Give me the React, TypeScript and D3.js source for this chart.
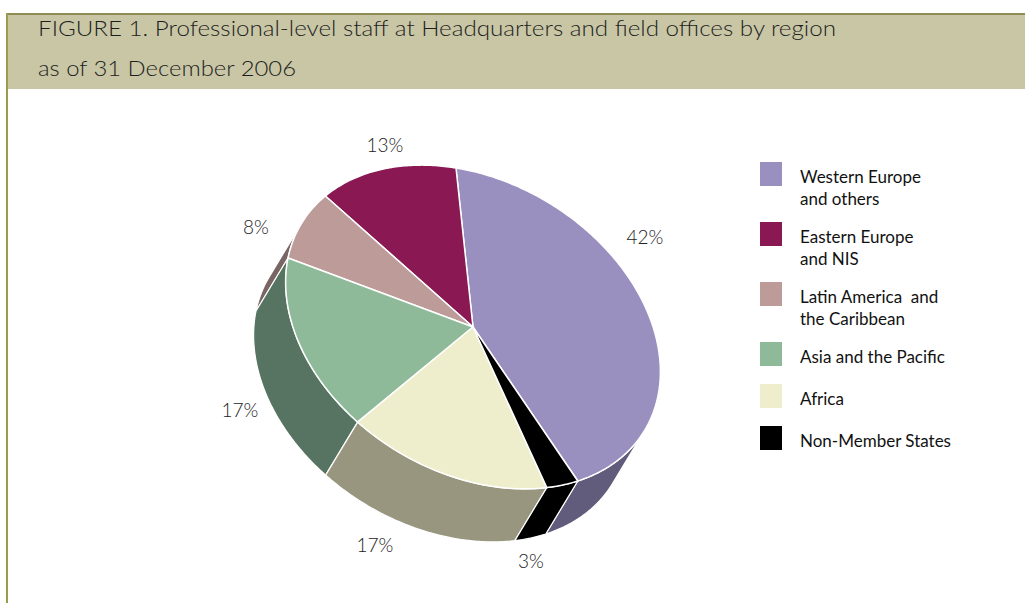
import React from "react";
import * as d3 from "d3";

// ---------- data ----------
const CATEGORIES: string[][] = [
  ["Western Europe", "and others"],
  ["Eastern Europe", "and NIS"],
  ["Latin America  and", "the Caribbean"],
  ["Asia and the Pacific"],
  ["Africa"],
  ["Non-Member States"],
];
const SHARES: number[] = [42, 13, 8, 17, 17, 3];
const TITLE_LINES: string[] = [
  "FIGURE 1. Professional-level staff at Headquarters and field offices by region",
  "as of 31 December 2006",
];

// ---------- styles / layout ----------
const TOP_COLORS = ["#9990c0", "#891853", "#bd9b99", "#8fba9a", "#eeedcc", "#000000"];
const SIDE_COLORS = ["#615b7c", "#5a1036", "#7a6565", "#567461", "#98967f", "#000000"];
const LABEL_OFFSETS: [number, number][] = [
  [172, -83],
  [-88, -175],
  [-217, -93],
  [-233, 90],
  [-98, 225],
  [58, 241],
];

const W = 1025;
const H = 603;
const C = { x: 473, y: 327 };
const AX_A = { x: -17, y: -159 };
const AX_B = { x: 186.6, y: 30.4 };
const DEPTH = { x: -32, y: 53 };
const TAU = Math.PI * 2;

function pt(phi: number, off = { x: 0, y: 0 }): [number, number] {
  const c = Math.cos(phi);
  const s = Math.sin(phi);
  return [C.x + AX_A.x * c + AX_B.x * s + off.x, C.y + AX_A.y * c + AX_B.y * s + off.y];
}

function arcPts(a0: number, a1: number, off = { x: 0, y: 0 }): [number, number][] {
  const n = Math.max(2, Math.ceil(Math.abs(a1 - a0) * 80));
  return d3.range(n + 1).map((i) => pt(a0 + ((a1 - a0) * i) / n, off));
}

const line = d3.line<[number, number]>();

export default function App() {
  const total = d3.sum(SHARES);
  const start = (TAU * SHARES[0]) / total;
  const arcs = d3
    .pie<number>()
    .sort(null)
    .value((d) => d)
    .startAngle(start)
    .endAngle(start - TAU)(SHARES);

  // visible (front) range of the side wall
  const p = -AX_A.y * DEPTH.x + AX_A.x * DEPTH.y;
  const q = AX_B.y * DEPTH.x - AX_B.x * DEPTH.y;
  const alpha = Math.atan2(p, q);
  const lo = alpha - Math.PI / 2;
  const hi = alpha + Math.PI / 2;

  const sides: { d: string; color: string }[] = [];
  const tops: { d: string; color: string }[] = [];

  arcs.forEach((a, i) => {
    const a0 = Math.min(a.startAngle, a.endAngle);
    const a1 = Math.max(a.startAngle, a.endAngle);
    const s0 = lo + ((((a0 - lo) % TAU) + TAU) % TAU);
    const s1 = s0 + (a1 - a0);
    const ranges: [number, number][] = [
      [Math.max(s0, lo), Math.min(s1, hi)],
      [Math.max(s0, lo + TAU), Math.min(s1, hi + TAU)],
    ];
    ranges.forEach(([b0, b1]) => {
      if (b1 > b0) {
        const pts = [...arcPts(b0, b1), ...arcPts(b1, b0, DEPTH)];
        sides.push({ d: line(pts) + "Z", color: SIDE_COLORS[i] });
      }
    });
    const topPts: [number, number][] = [[C.x, C.y], ...arcPts(a0, a1)];
    tops.push({ d: line(topPts) + "Z", color: TOP_COLORS[i] });
  });

  // legend layout
  let ly = 162;
  const legend = CATEGORIES.map((lines, i) => {
    const y = ly;
    ly += 42 + 18 * (lines.length - 1);
    return { lines, y, color: TOP_COLORS[i] };
  });

  return (
    <svg
      width={W}
      height={H}
      style={{ position: "absolute", left: 0, top: 0, display: "block", background: "#ffffff" }}
    >
      {/* frame */}
      <rect x={8} y={15} width={W - 8} height={74} fill="#c8c6a5" />
      <line x1={6} x2={W} y1={14} y2={14} stroke="#8e8d53" strokeWidth={2} />
      <line x1={7} x2={7} y1={13} y2={H} stroke="#9b9a4f" strokeWidth={2} />
      {TITLE_LINES.map((t, i) => (
        <text
          key={i}
          x={38}
          y={36 + i * 40}
          fontFamily="Lato, 'Open Sans', sans-serif"
          fontWeight={300}
          fontSize={21.5}
          fill="#1e1e1e"
          textLength={i === 0 ? 798 : 258}
          lengthAdjust="spacingAndGlyphs"
        >
          {t}
        </text>
      ))}

      {/* pie sides */}
      {sides.map((s, i) => (
        <path key={"s" + i} d={s.d} fill={s.color} stroke="#ffffff" strokeWidth={1.2} strokeLinejoin="round" />
      ))}
      {/* pie tops */}
      {tops.map((s, i) => (
        <path key={"t" + i} d={s.d} fill={s.color} stroke="#ffffff" strokeWidth={1.5} strokeLinejoin="round" />
      ))}

      {/* percent labels */}
      {SHARES.map((v, i) => (
        <text
          key={"l" + i}
          x={C.x + LABEL_OFFSETS[i][0]}
          y={C.y + LABEL_OFFSETS[i][1]}
          textAnchor="middle"
          fontFamily="Lato, 'Open Sans', sans-serif"
          fontWeight={300}
          fontSize={19}
          fill="#222222"
        >
          {`${v}%`}
        </text>
      ))}

      {/* legend */}
      {legend.map((e, i) => (
        <g key={"g" + i}>
          <rect x={760} y={e.y} width={22} height={24} fill={e.color} />
          {e.lines.map((t, j) => (
            <text
              key={j}
              x={800}
              y={e.y + 21 + j * 22}
              fontFamily="Lato, 'Open Sans', sans-serif"
              fontSize={17}
              fill="#111111"
              style={{ whiteSpace: "pre" }}
            >
              {t}
            </text>
          ))}
        </g>
      ))}
    </svg>
  );
}
